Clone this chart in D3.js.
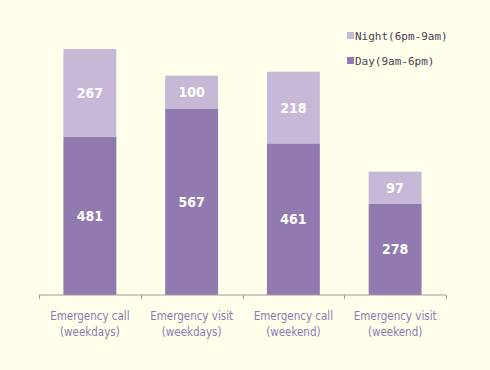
<!DOCTYPE html>
<html>
<head>
<meta charset="utf-8">
<script src="https://cdn.jsdelivr.net/npm/d3@7"></script>
<style>
  body { margin: 0; background: #FFFFEC; }
</style>
</head>
<body>
<div id="chart"></div>
<script>
// categories and values
let categories = ["Emergency call|(weekdays)", "Emergency visit|(weekdays)",
  "Emergency call|(weekend)", "Emergency visit|(weekend)"];
let dayValues = [481, 567, 461, 278];
let nightValues = [267, 100, 218, 97];
let seriesNames = ["Night(6pm-9am)", "Day(9am-6pm)"];

let W = 490, H = 370;
let dayColor = "#917AAF", nightColor = "#C6B8D6";

let svg = d3.select("#chart").append("svg")
  .attr("width", W)
  .attr("height", H);

svg.append("rect")
  .attr("width", W)
  .attr("height", H)
  .style("fill", "#FFFFEC");

//scales
let x = d3.scaleBand()
  .domain(categories)
  .range([39, 446])
  .paddingInner(0.48)
  .paddingOuter(0.24);
let y = d3.scaleLinear()
  .domain([0, 748])
  .range([295, 49]);

// stack day at bottom, night on top
let rows = categories.map(function(c, i){
  return {cat: c, day: dayValues[i], night: nightValues[i]};
});
let stack = d3.stack().keys(["day", "night"])(rows);
let colors = {day: dayColor, night: nightColor};

let layers = svg.selectAll("g.layer")
  .data(stack)
  .enter().append("g")
  .attr("class", "layer")
  .style("fill", function(d){ return colors[d.key]; });

layers.selectAll("rect")
  .data(function(d){ return d; })
  .enter().append("rect")
  .attr("x", function(d){ return x(d.data.cat); })
  .attr("y", function(d){ return y(d[1]); })
  .attr("width", x.bandwidth())
  .attr("height", function(d){ return y(d[0]) - y(d[1]); });

//value labels
layers.selectAll("text")
  .data(function(d){ return d; })
  .enter().append("text")
  .attr("x", function(d){ return x(d.data.cat) + x.bandwidth()/2; })
  .attr("y", function(d){ return (y(d[0]) + y(d[1]))/2; })
  .attr("dy", "0.36em")
  .attr("text-anchor", "middle")
  .attr("font-family", "'DejaVu Sans Condensed', 'DejaVu Sans', sans-serif")
  .attr("font-size", "14px")
  .attr("font-weight", "bold")
  .attr("fill", "#ffffff")
  .text(function(d){ return d[1] - d[0]; });

//x axis
let axisG = svg.append("g")
  .attr("transform", "translate(0,295)");
axisG.append("line")
  .attr("x1", 39).attr("x2", 446)
  .attr("stroke", "#A09C98").attr("stroke-width", 1);
let step = x.step();
let tickXs = d3.range(categories.length + 1).map(function(i){ return 39 + i*(407/4); });
axisG.selectAll("line.tick")
  .data(tickXs)
  .enter().append("line")
  .attr("class", "tick")
  .attr("x1", function(d){ return Math.round(d) + 0.5; })
  .attr("x2", function(d){ return Math.round(d) + 0.5; })
  .attr("y1", 0).attr("y2", 4)
  .attr("stroke", "#A09C98");

let labels = svg.selectAll("text.cat")
  .data(categories)
  .enter().append("text")
  .attr("class", "cat")
  .attr("text-anchor", "middle")
  .attr("font-family", "'DejaVu Sans Condensed', 'DejaVu Sans', sans-serif")
  .attr("font-size", "11.5px")
  .attr("fill", "#8E78B0");
labels.selectAll("tspan")
  .data(function(d){
    let c = x(d) + x.bandwidth()/2;
    return d.split("|").map(function(t, i){ return {t: t, c: c, i: i}; });
  })
  .enter().append("tspan")
  .attr("x", function(d){ return d.c; })
  .attr("y", function(d){ return 320 + d.i*16; })
  .text(function(d){ return d.t; });

//legend
let legendColors = [nightColor, dayColor];
let legend = svg.selectAll("g.legend")
  .data(seriesNames)
  .enter().append("g")
  .attr("class", "legend")
  .attr("transform", function(d, i){ return "translate(347," + (32 + i*25) + ")"; });
legend.append("rect")
  .attr("width", 7).attr("height", 7)
  .style("fill", function(d, i){ return legendColors[i]; });
legend.append("text")
  .attr("x", 8)
  .attr("y", 4)
  .attr("dy", "0.36em")
  .attr("font-family", "'DejaVu Sans Mono', monospace")
  .attr("font-size", "11px")
  .attr("fill", "#4A3F55")
  .text(function(d){ return d; });
</script>
</body>
</html>
